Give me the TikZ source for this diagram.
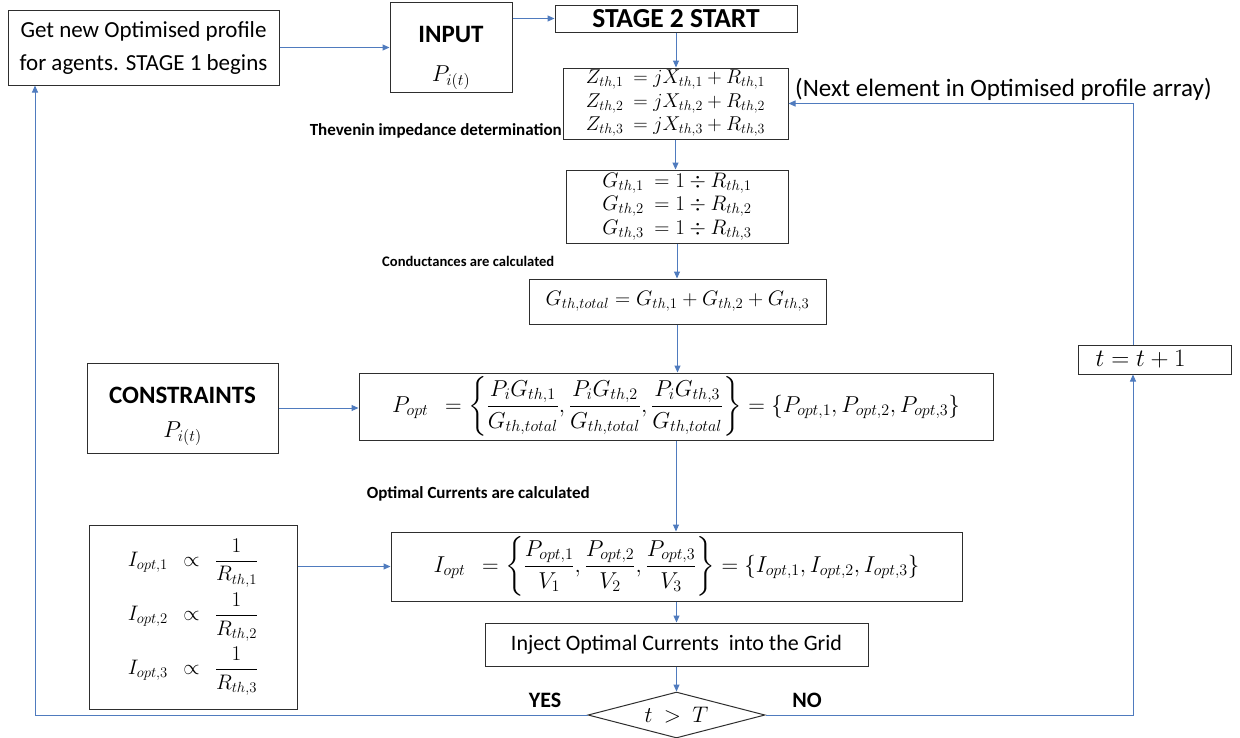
\RequirePackage{fix-cm}
\documentclass[tikz,border=0pt]{standalone}
\usepackage{amsmath}
\usepackage{fontspec}
\setmainfont{Carlito}
\usetikzlibrary{arrows.meta,shapes.geometric,calc}
\definecolor{flow}{HTML}{4F7BBE}
\definecolor{edge}{HTML}{2E2E2E}
\newcommand\fcMath{\fontsize{21}{23.5}\selectfont}
\newcommand\fcBig{\fontsize{23}{27}\selectfont}
\newcommand\fcText{\fontsize{23}{33}\selectfont}
\newcommand\fcHead{\fontsize{25}{30}\selectfont\bfseries}
\newcommand\fcNote{\fontsize{17}{20}\selectfont\bfseries}
\newcommand\fcYN{\fontsize{22}{26}\selectfont\bfseries}

\begin{document}
\begin{tikzpicture}[x=1pt,y=-1pt,
  box/.style={draw=edge, line width=1pt, fill=white, inner sep=0pt,
    align=center, font=\fcMath},
  arr/.style={draw=flow, line width=1pt, -{Triangle[length=7pt,width=6pt]}},
  note/.style={font=\fcNote, inner sep=0pt},
  yn/.style={font=\fcYN, inner sep=0pt}]

\useasboundingbox (0,0) rectangle (1240,737);
\clip (0,0) rectangle (1240,737);

% ---- boxes
\node[box, font=\fcText, minimum width=271, minimum height=75] (get) at (143.5,47.5)
  {Get new Optimised profile\\for agents. STAGE 1 begins};
\node[box, minimum width=122, minimum height=90] (input) at (451,47)
  {{\fcHead\rule{0pt}{38pt}INPUT}\\[16pt]{\fontsize{23}{26}\selectfont$P_{i(t)}$}};
\node[box, font={\fontsize{27.5}{30}\selectfont\bfseries}, minimum width=242,
  minimum height=27] (stage) at (676,18.5) {STAGE 2 START};
\node[box, font=\fontsize{20}{23.5}\selectfont, minimum width=225, minimum height=71]
  (zbox) at (675.5,103.5)
  {$Z_{th,1}\ = jX_{th,1} + R_{th,1}$\\
   $Z_{th,2}\ = jX_{th,2} + R_{th,2}$\\
   $Z_{th,3}\ = jX_{th,3} + R_{th,3}$};
\node[box, minimum width=222, minimum height=73] (gbox) at (677,206.5)
  {$G_{th,1}\ = 1 \div R_{th,1}$\\
   $G_{th,2}\ = 1 \div R_{th,2}$\\
   $G_{th,3}\ = 1 \div R_{th,3}$};
\node[box, minimum width=297, minimum height=45] (gtot) at (677.5,301.5)
  {$G_{th,total} = G_{th,1} + G_{th,2} + G_{th,3}$};
\node[box, minimum width=191, minimum height=90] (cons) at (182.5,408)
  {{\fcHead\rule{0pt}{33pt}CONSTRAINTS}\\[11pt]{\fontsize{23}{26}\selectfont$P_{i(t)}$}};
\node[box, font=\fcBig, minimum width=634, minimum height=67] (popt) at (676,406.5)
  {$P_{opt}\ \ = \left\{\dfrac{P_i G_{th,1}}{G_{th,total}},
     \dfrac{P_i G_{th,2}}{G_{th,total}},
     \dfrac{P_i G_{th,3}}{G_{th,total}}\right\}
     = \{P_{opt,1}, P_{opt,2}, P_{opt,3}\}$};
\node[box, minimum width=208, minimum height=184] (iprop) at (193,617)
  {$I_{opt,1}\ \ \propto\ \ \dfrac{1}{R_{th,1}}$\\[5pt]
   $I_{opt,2}\ \ \propto\ \ \dfrac{1}{R_{th,2}}$\\[5pt]
   $I_{opt,3}\ \ \propto\ \ \dfrac{1}{R_{th,3}}$};
\node[box, font=\fcBig, minimum width=571, minimum height=69] (iopt) at (676.5,566.5)
  {$I_{opt}\ \ = \left\{\dfrac{P_{opt,1}}{V_1},
     \dfrac{P_{opt,2}}{V_2},
     \dfrac{P_{opt,3}}{V_3}\right\}
     = \{I_{opt,1}, I_{opt,2}, I_{opt,3}\}$};
\node[box, font=\fontsize{22}{26}\selectfont, minimum width=383, minimum height=43]
  (inject) at (676.5,644.5) {Inject Optimal Currents\ \ into the Grid};
\node[box, font=\fontsize{22.5}{26}\selectfont, diamond, aspect=3.85,
  minimum width=177, minimum height=46] (dec) at (676.5,715) {$t\ >\ T$};
\node[box, font=\fontsize{25}{28}\selectfont, anchor=west, minimum height=29,
  text width=119, inner xsep=17pt, align=left] (tt) at (1078,359.5) {$t = t + 1$};

% ---- free ends of the loop-back connectors
\coordinate (lx) at (35,0);
\coordinate (rx) at (1133,0);

% ---- labels
\node[font=\fontsize{25}{28}\selectfont, anchor=base west, inner sep=0pt] (nextlbl)
  at (795,96) {(Next element in Optimised profile array)};
\node[note, anchor=base east] (thev) at (562,135) {Thevenin impedance determination};
\node[note, font=\fontsize{14.6}{17}\selectfont\bfseries, anchor=base west] (cond)
  at (382,266) {Conductances are calculated};
\node[note, anchor=base east] (optc) at (590,498) {Optimal Currents are calculated};
\node[yn] (yes) at (545,700) {YES};
\node[yn] (no) at (807,700) {NO};

% ---- connectors
\draw[arr] (get.east) -- (get.east -| input.west);
\draw[arr] (stage.west -| input.east) -- (stage.west);
\draw[arr] (stage.south) -- (stage.south |- zbox.north);
\draw[arr] (zbox.south) -- (zbox.south |- gbox.north);
\draw[arr] (gbox.south) -- (gbox.south |- gtot.north);
\draw[arr] (gtot.south) -- (gtot.south |- popt.north);
\draw[arr] (cons.east) -- (cons.east -| popt.west);
\draw[arr] (popt.south) -- (popt.south |- iopt.north);
\draw[arr] (iopt.west -| iprop.east) -- (iopt.west);
\draw[arr] (iopt.south) -- (iopt.south |- inject.north);
\draw[arr] (inject.south) -- (dec.north);
\draw[arr] (dec.west) -- (dec.west -| lx) -- (lx |- get.south);
\draw[arr] (dec.east) -- (dec.east -| rx) -- (rx |- tt.south);
\draw[arr] (rx |- tt.north) -- (rx |- zbox.east) -- (zbox.east);
\end{tikzpicture}
\end{document}
